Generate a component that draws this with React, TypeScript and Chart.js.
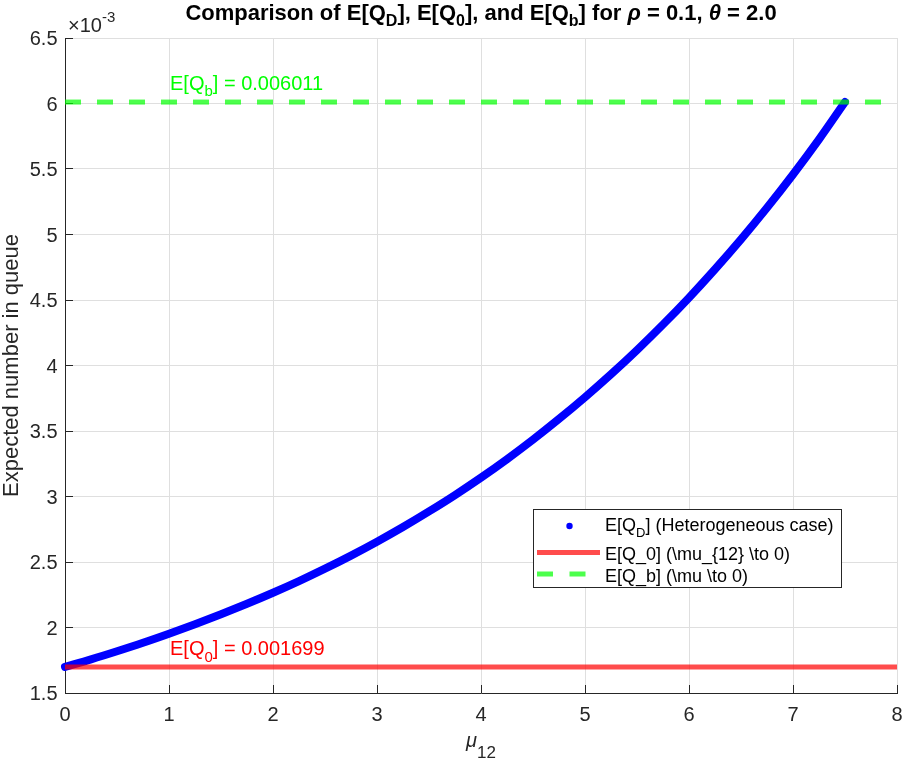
import { useEffect, useRef } from 'react';
import { Chart, registerables } from 'chart.js';

Chart.register(...registerables);

// ---------- data (y values in units of 1e-3) ----------
const MU = [
  0, 0.25, 0.5, 0.75, 1, 1.25, 1.5, 1.75, 2, 2.25, 2.5, 2.75, 3, 3.25, 3.5, 3.75,
  4, 4.25, 4.5, 4.75, 5, 5.25, 5.5, 5.75, 6, 6.25, 6.5, 6.75, 7, 7.25, 7.5,
];
const EQD_E3 = [
  1.699, 1.757, 1.819, 1.884, 1.953, 2.025, 2.101, 2.181, 2.265, 2.354, 2.449, 2.549, 2.655, 2.767, 2.886, 3.011,
  3.144, 3.285, 3.434, 3.592, 3.758, 3.933, 4.118, 4.313, 4.518, 4.735, 4.963, 5.204, 5.458, 5.726, 6.011,
];
const EQ0_E3 = 1.699;
const EQB_E3 = 6.011;
const REF_X = [0, 8];
const LABEL_X = 1;

const X_TICKS = [0, 1, 2, 3, 4, 5, 6, 7, 8];
const X_TICK_LABELS = ['0', '1', '2', '3', '4', '5', '6', '7', '8'];
const Y_TICKS = [1.5, 2, 2.5, 3, 3.5, 4, 4.5, 5, 5.5, 6, 6.5];
const Y_TICK_LABELS = ['1.5', '2', '2.5', '3', '3.5', '4', '4.5', '5', '5.5', '6', '6.5'];

const Y_TITLE = 'Expected number in queue';
const LEGEND_TAIL = [' (Heterogeneous case)', '', ''];

// ---------- styling ----------
const FONT = "'Liberation Sans', Arial, Helvetica, sans-serif";
const AXIS_COLOR = '#262626';
const GRID_COLOR = 'rgb(223,223,223)';
const BLUE = 'rgb(0,0,255)';
const RED_LINE = 'rgba(255,0,0,0.7)';
const GREEN_LINE = 'rgba(0,255,0,0.7)';

type Seg = { t: string; sub?: boolean; sup?: boolean; italic?: boolean };

function segFont(seg: Seg, size: number, subSize: number, weight: string) {
  const s = seg.sub || seg.sup ? subSize : size;
  return `${seg.italic ? 'italic ' : ''}${weight} ${s}px ${FONT}`;
}

function drawRich(
  ctx: CanvasRenderingContext2D,
  segs: Seg[],
  x: number,
  y: number,
  o: { size: number; subSize: number; weight?: string; color: string; align: 'left' | 'center'; drop: number; rise?: number }
) {
  const weight = o.weight || 'normal';
  ctx.save();
  ctx.fillStyle = o.color;
  ctx.textBaseline = 'alphabetic';
  ctx.textAlign = 'left';
  let total = 0;
  const widths = segs.map((s) => {
    ctx.font = segFont(s, o.size, o.subSize, weight);
    const w = ctx.measureText(s.t).width;
    total += w;
    return w;
  });
  let cx = o.align === 'center' ? x - total / 2 : x;
  segs.forEach((s, i) => {
    ctx.font = segFont(s, o.size, o.subSize, weight);
    const dy = s.sub ? o.drop : s.sup ? -(o.rise || 0) : 0;
    ctx.fillText(s.t, cx, y + dy);
    cx += widths[i];
  });
  ctx.restore();
}

const TITLE_SEGS: Seg[] = [
  { t: 'Comparison of E[Q' },
  { t: 'D', sub: true },
  { t: '], E[Q' },
  { t: '0', sub: true },
  { t: '], and E[Q' },
  { t: 'b', sub: true },
  { t: '] for ' },
  { t: 'ρ', italic: true },
  { t: ' = 0.1, ' },
  { t: 'θ', italic: true },
  { t: ' = 2.0' },
];

const decoPlugin = {
  id: 'deco',
  beforeDatasetsDraw(chart: any) {
    const { ctx, chartArea: a, scales } = chart;
    const xs = scales.x;
    const ys = scales.y;
    ctx.save();
    ctx.strokeStyle = AXIS_COLOR;
    ctx.lineWidth = 1;
    ctx.beginPath();
    X_TICKS.forEach((v) => {
      const px = Math.round(xs.getPixelForValue(v) - 0.5) + 0.5;
      ctx.moveTo(px, a.bottom);
      ctx.lineTo(px, a.bottom - 8);
    });
    Y_TICKS.forEach((v) => {
      const py = Math.round(ys.getPixelForValue(v) - 0.5) + 0.5;
      ctx.moveTo(a.left, py);
      ctx.lineTo(a.left + 8, py);
    });
    ctx.stroke();
    ctx.restore();
  },
  afterDraw(chart: any) {
    const { ctx, chartArea: a, scales } = chart;
    const xs = scales.x;
    const ys = scales.y;

    // tick labels
    ctx.save();
    ctx.fillStyle = AXIS_COLOR;
    ctx.font = `20px ${FONT}`;
    ctx.textBaseline = 'alphabetic';
    ctx.textAlign = 'center';
    X_TICKS.forEach((v, i) => {
      ctx.fillText(X_TICK_LABELS[i], xs.getPixelForValue(v), a.bottom + 28);
    });
    ctx.textAlign = 'right';
    Y_TICKS.forEach((v, i) => {
      ctx.fillText(Y_TICK_LABELS[i], a.left - 7.5, ys.getPixelForValue(v) + 7);
    });
    // exponent
    ctx.textAlign = 'left';
    ctx.font = `20px ${FONT}`;
    const baseTxt = '×10';
    ctx.fillText(baseTxt, a.left + 3, a.top - 6.5);
    const bw = ctx.measureText(baseTxt).width;
    ctx.font = `15px ${FONT}`;
    ctx.fillText('-3', a.left + 3 + bw, a.top - 16.5);

    // y title
    ctx.save();
    ctx.font = `22px ${FONT}`;
    ctx.textAlign = 'center';
    ctx.translate(18, (a.top + a.bottom) / 2);
    ctx.rotate(-Math.PI / 2);
    ctx.fillText(Y_TITLE, 0, 0);
    ctx.restore();
    ctx.restore();

    // x title
    drawRich(ctx, [{ t: 'μ', italic: true }, { t: '12', sub: true }], (a.left + a.right) / 2, 746.5, {
      size: 20, subSize: 17, color: AXIS_COLOR, align: 'center', drop: 11.5,
    });

    // title
    drawRich(ctx, TITLE_SEGS, (a.left + a.right) / 2, 20, {
      size: 22, subSize: 16, weight: 'bold', color: '#000', align: 'center', drop: 6,
    });

    // annotations
    const ax = xs.getPixelForValue(LABEL_X) + 1;
    drawRich(
      ctx,
      [{ t: 'E[Q' }, { t: 'b', sub: true }, { t: '] = ' + (EQB_E3 / 1000).toFixed(6) }],
      ax, ys.getPixelForValue(EQB_E3) - 12,
      { size: 20, subSize: 15, color: 'rgb(0,255,0)', align: 'left', drop: 6 }
    );
    drawRich(
      ctx,
      [{ t: 'E[Q' }, { t: '0', sub: true }, { t: '] = ' + (EQ0_E3 / 1000).toFixed(6) }],
      ax, ys.getPixelForValue(EQ0_E3) - 12,
      { size: 20, subSize: 15, color: 'rgb(255,0,0)', align: 'left', drop: 7 }
    );

    // legend
    const L = { x: 533, y: 509, w: 308, h: 78 };
    ctx.save();
    ctx.fillStyle = '#fff';
    ctx.fillRect(L.x, L.y, L.w, L.h);
    ctx.strokeStyle = AXIS_COLOR;
    ctx.lineWidth = 1;
    ctx.strokeRect(L.x + 0.5, L.y + 0.5, L.w, L.h);
    // entry 1: dot
    ctx.fillStyle = BLUE;
    ctx.beginPath();
    ctx.arc(569.5, 526, 3.2, 0, Math.PI * 2);
    ctx.fill();
    // entry 2: red line
    ctx.strokeStyle = RED_LINE;
    ctx.lineWidth = 5;
    ctx.beginPath();
    ctx.moveTo(537, 552.5);
    ctx.lineTo(600, 552.5);
    ctx.stroke();
    // entry 3: green dashed
    ctx.strokeStyle = GREEN_LINE;
    ctx.setLineDash([16, 16.5]);
    ctx.beginPath();
    ctx.moveTo(537, 574);
    ctx.lineTo(600, 574);
    ctx.stroke();
    ctx.restore();
    drawRich(ctx, [{ t: 'E[Q' }, { t: 'D', sub: true }, { t: ']' + LEGEND_TAIL[0] }], 605, 530.5, {
      size: 18, subSize: 13, color: '#000', align: 'left', drop: 6,
    });
    drawRich(ctx, [{ t: 'E[Q_0] (\\mu_{12} \\to 0)' }], 605, 560, {
      size: 18, subSize: 13, color: '#000', align: 'left', drop: 6,
    });
    drawRich(ctx, [{ t: 'E[Q_b] (\\mu \\to 0)' }], 605, 581.5, {
      size: 18, subSize: 13, color: '#000', align: 'left', drop: 6,
    });
  },
};

export default function App() {
  const ref = useRef<HTMLCanvasElement>(null);
  useEffect(() => {
    if (!ref.current) return;
    const chart = new Chart(ref.current, {
      type: 'line',
      data: {
        datasets: [
          {
            label: 'E[Q_0]',
            data: REF_X.map((x) => ({ x, y: EQ0_E3 })),
            borderColor: RED_LINE,
            borderWidth: 5,
            pointRadius: 0,
            borderCapStyle: 'butt',
            clip: false as any,
            order: 1,
          },
          {
            label: 'E[Q_b]',
            data: REF_X.map((x) => ({ x, y: EQB_E3 })),
            borderColor: GREEN_LINE,
            borderWidth: 5,
            borderDash: [16, 16],
            pointRadius: 0,
            borderCapStyle: 'butt',
            clip: false as any,
            order: 2,
          },
          {
            label: 'E[Q_D]',
            data: MU.map((x, i) => ({ x, y: EQD_E3[i] })),
            borderColor: BLUE,
            borderWidth: 8,
            pointRadius: 0,
            cubicInterpolationMode: 'monotone',
            borderCapStyle: 'round',
            borderJoinStyle: 'round',
            clip: false as any,
            order: 3,
          },
        ] as any,
      },
      options: {
        animation: false,
        responsive: false,
        devicePixelRatio: 1,
        events: [],
        layout: { padding: { left: 0, top: 38, right: 8, bottom: 0 } },
        plugins: { legend: { display: false }, tooltip: { enabled: false }, title: { display: false } },
        scales: {
          x: {
            type: 'linear',
            min: 0,
            max: 8,
            afterBuildTicks: (s: any) => { s.ticks = X_TICKS.map((value) => ({ value })); },
            ticks: { display: false },
            grid: { color: GRID_COLOR, lineWidth: 1, drawTicks: false },
            border: { display: true, color: AXIS_COLOR, width: 1 },
            afterFit: (s: any) => { s.height = 68; },
          },
          y: {
            type: 'linear',
            min: 1.5,
            max: 6.5,
            afterBuildTicks: (s: any) => { s.ticks = Y_TICKS.map((value) => ({ value })); },
            ticks: { display: false },
            grid: { color: GRID_COLOR, lineWidth: 1, drawTicks: false },
            border: { display: true, color: AXIS_COLOR, width: 1 },
            afterFit: (s: any) => { s.width = 65; },
          },
        },
      } as any,
      plugins: [decoPlugin],
    });
    return () => chart.destroy();
  }, []);
  return (
    <div style={{ position: 'absolute', left: 0, top: 0, width: 905, height: 761, background: '#fff' }}>
      <canvas ref={ref} width={905} height={761} style={{ display: 'block', width: 905, height: 761 }} />
    </div>
  );
}
